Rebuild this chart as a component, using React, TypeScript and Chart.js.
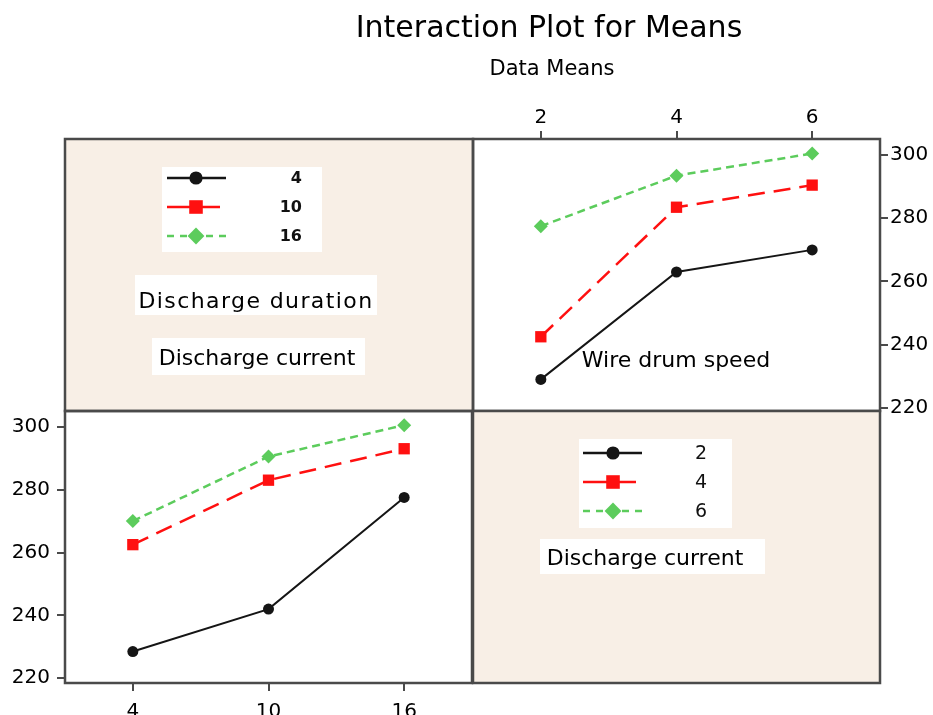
import { useEffect, useRef } from "react";
import { Chart, registerables } from "chart.js";

Chart.register(...registerables);

// ---------- data ----------
const TITLE = "Interaction Plot for Means";
const SUBTITLE = "Data Means";
const currentLevels = [2, 4, 6]; // Discharge current (x of top-right panel)
const durationLevels = [4, 10, 16]; // Discharge duration (x of bottom-left panel)
const yTicks = [220, 240, 260, 280, 300];

// top-right panel: series = discharge duration, x = discharge current
const durationLabels = ["4", "10", "16"];
const dur4Means = [229, 263, 270];
const dur10Means = [242.5, 283.5, 290.5];
const dur16Means = [277.5, 293.5, 300.5];

// bottom-left panel: series = discharge current, x = discharge duration
const currentLabels = ["2", "4", "6"];
const cur2Means = [228.5, 242, 277.5];
const cur4Means = [262.5, 283, 293];
const cur6Means = [270, 290.5, 300.5];

// ---------- styles ----------
const FONT = '"DejaVu Sans", Verdana, sans-serif';
const W = 933;
const H = 715;
const BEIGE = "#f8efe6";
const FRAME = "#4a4a4a";

type SeriesStyle = {
  color: string;
  pointStyle: "circle" | "rect" | "rectRot";
  radius: number;
  dash: number[];
  legendDash: number[];
  width: number;
};

const STYLES: SeriesStyle[] = [
  { color: "#151515", pointStyle: "circle", radius: 5.5, dash: [], legendDash: [], width: 2 },
  { color: "#ff1010", pointStyle: "rect", radius: 8, dash: [17, 9], legendDash: [], width: 2.5 },
  { color: "#5ccc5c", pointStyle: "rectRot", radius: 7, dash: [8, 5], legendDash: [7, 6], width: 2.5 },
];

function makeDatasets(xs: number[], series: number[][], labels: string[]) {
  return series.map((vals, i) => {
    const s = STYLES[i];
    return {
      label: labels[i],
      data: vals.map((v, j) => ({ x: xs[j], y: v })),
      borderColor: s.color,
      backgroundColor: s.color,
      borderWidth: s.width,
      borderDash: s.dash,
      pointStyle: s.pointStyle,
      pointRadius: s.radius,
      pointBorderWidth: 0,
      pointBackgroundColor: s.color,
      showLine: true,
      tension: 0,
      legendDash: s.legendDash,
    };
  });
}

function drawMarker(ctx: CanvasRenderingContext2D, ds: any, x: number, y: number, scale: number) {
  const r = ds.pointRadius * scale;
  ctx.save();
  ctx.setLineDash([]);
  ctx.fillStyle = ds.borderColor;
  ctx.beginPath();
  if (ds.pointStyle === "circle") ctx.arc(x, y, r, 0, Math.PI * 2);
  else if (ds.pointStyle === "rect") {
    const s = r * Math.SQRT1_2;
    ctx.rect(x - s, y - s, 2 * s, 2 * s);
  } else {
    ctx.moveTo(x, y - r);
    ctx.lineTo(x + r, y);
    ctx.lineTo(x, y + r);
    ctx.lineTo(x - r, y);
    ctx.closePath();
  }
  ctx.fill();
  ctx.restore();
}

type TextItem = {
  text: string;
  x: number;
  y: number;
  font: string;
  box?: number[];
  spacing?: string;
  align?: CanvasTextAlign;
};

const decorPlugin = {
  id: "decor",
  beforeDatasetsDraw(chart: any, _args: any, opts: any) {
    const ctx: CanvasRenderingContext2D = chart.ctx;
    const p = opts.panel;
    if (p) {
      ctx.save();
      ctx.fillStyle = BEIGE;
      ctx.fillRect(p[0], p[1], p[2] - p[0], p[3] - p[1]);
      ctx.restore();
    }
  },
  afterDraw(chart: any, _args: any, opts: any) {
    const ctx: CanvasRenderingContext2D = chart.ctx;
    const a = chart.chartArea;
    ctx.save();
    ctx.strokeStyle = FRAME;
    ctx.lineWidth = 2.5;
    ctx.setLineDash([]);
    ctx.strokeRect(a.left, a.top, a.right - a.left, a.bottom - a.top);
    const p = opts.panel;
    if (p) ctx.strokeRect(p[0], p[1], p[2] - p[0], p[3] - p[1]);

    // legend
    const lg = opts.legend;
    if (lg) {
      ctx.fillStyle = "#ffffff";
      ctx.fillRect(lg.box[0], lg.box[1], lg.box[2] - lg.box[0], lg.box[3] - lg.box[1]);
      chart.data.datasets.forEach((ds: any, i: number) => {
        const y = lg.rows[i];
        ctx.save();
        ctx.strokeStyle = ds.borderColor;
        ctx.lineWidth = 2.5;
        ctx.setLineDash(ds.legendDash || []);
        ctx.beginPath();
        ctx.moveTo(lg.x0, y);
        ctx.lineTo(lg.x1[i], y);
        ctx.stroke();
        ctx.restore();
        drawMarker(ctx, ds, lg.markerX, y, 1.2);
        ctx.fillStyle = "#111";
        ctx.font = lg.font;
        ctx.textAlign = lg.align;
        ctx.textBaseline = "middle";
        ctx.fillText(ds.label, lg.labelX, y + 1);
      });
    }

    (opts.texts || []).forEach((t: TextItem) => {
      if (t.box) {
        ctx.fillStyle = "#ffffff";
        ctx.fillRect(t.box[0], t.box[1], t.box[2] - t.box[0], t.box[3] - t.box[1]);
      }
      ctx.save();
      ctx.fillStyle = "#000";
      ctx.font = t.font;
      ctx.textAlign = t.align || "center";
      ctx.textBaseline = "alphabetic";
      (ctx as any).letterSpacing = t.spacing || "0px";
      ctx.fillText(t.text, t.x, t.y);
      ctx.restore();
    });
    ctx.restore();
  },
};

const TICK_FONT = { family: FONT, size: 20 };

function axis(extra: any) {
  return {
    type: "linear",
    grid: { drawOnChartArea: false, drawTicks: true, tickLength: 8, color: FRAME, lineWidth: 2 },
    border: { display: false },
    ...extra,
  };
}

export default function App() {
  const refA = useRef<HTMLCanvasElement>(null);
  const refB = useRef<HTMLCanvasElement>(null);

  useEffect(() => {
    const chartA = new Chart(refA.current as HTMLCanvasElement, {
      type: "scatter",
      data: { datasets: makeDatasets(currentLevels, [dur4Means, dur10Means, dur16Means], durationLabels) as any },
      options: {
        animation: false,
        responsive: false,
        devicePixelRatio: 1,
        layout: { padding: { left: 473, top: 90, right: 0, bottom: 304 } },
        scales: {
          x: axis({
            position: "top",
            min: 1,
            max: 7,
            afterBuildTicks: (s: any) => { s.ticks = currentLevels.map((v) => ({ value: v })); },
            afterFit: (s: any) => { s.height = 49; },
            ticks: { color: "#000", padding: 1, font: TICK_FONT, callback: (v: any) => String(v) },
          }),
          y: axis({
            position: "right",
            min: 219,
            max: 305.1,
            afterBuildTicks: (s: any) => { s.ticks = yTicks.map((v) => ({ value: v })); },
            afterFit: (s: any) => { s.width = 53; },
            ticks: { color: "#000", padding: 2, font: TICK_FONT, callback: (v: any) => String(v) },
          }),
        },
        plugins: {
          legend: { display: false },
          tooltip: { enabled: false },
          decor: {
            panel: [65, 139, 473, 411],
            legend: {
              box: [162, 167, 322, 252],
              rows: [178, 207, 236],
              x0: 167,
              x1: [226, 220, 226],
              markerX: 196,
              labelX: 302,
              align: "right",
              font: `bold 16px ${FONT}`,
            },
            texts: [
              { text: TITLE, x: 549, y: 37, font: `30px ${FONT}` },
              { text: SUBTITLE, x: 552, y: 75, font: `21px ${FONT}` },
              { text: "Discharge duration", x: 256, y: 308, font: `22px ${FONT}`, box: [135, 275, 377, 315], spacing: "1.4px" },
              { text: "Discharge current", x: 257, y: 365, font: `22px ${FONT}`, box: [152, 338, 365, 375] },
              { text: "Wire drum speed", x: 676, y: 367, font: `22px ${FONT}` },
            ],
          },
        } as any,
      },
      plugins: [decorPlugin as any],
    });

    const chartB = new Chart(refB.current as HTMLCanvasElement, {
      type: "scatter",
      data: { datasets: makeDatasets(durationLevels, [cur2Means, cur4Means, cur6Means], currentLabels) as any },
      options: {
        animation: false,
        responsive: false,
        devicePixelRatio: 1,
        layout: { padding: { left: 0, top: 411, right: 461, bottom: 0 } },
        scales: {
          x: axis({
            position: "bottom",
            min: 1,
            max: 19,
            afterBuildTicks: (s: any) => { s.ticks = durationLevels.map((v) => ({ value: v })); },
            afterFit: (s: any) => { s.height = 32; },
            ticks: { color: "#000", padding: 9, font: TICK_FONT, callback: (v: any) => String(v) },
          }),
          y: axis({
            position: "left",
            min: 218.5,
            max: 305,
            afterBuildTicks: (s: any) => { s.ticks = yTicks.map((v) => ({ value: v })); },
            afterFit: (s: any) => { s.width = 65; },
            ticks: { color: "#000", padding: 7, font: TICK_FONT, callback: (v: any) => String(v) },
          }),
        },
        plugins: {
          legend: { display: false },
          tooltip: { enabled: false },
          decor: {
            panel: [473, 411, 880, 683],
            legend: {
              box: [579, 439, 732, 528],
              rows: [453, 482, 511],
              x0: 583,
              x1: [642, 636, 642],
              markerX: 613,
              labelX: 701,
              align: "center",
              font: `19px ${FONT}`,
            },
            texts: [
              { text: "Discharge current", x: 645, y: 565, font: `22px ${FONT}`, box: [540, 539, 765, 574] },
            ],
          },
        } as any,
      },
      plugins: [decorPlugin as any],
    });

    return () => {
      chartA.destroy();
      chartB.destroy();
    };
  }, []);

  const canvasStyle: any = { position: "absolute", left: 0, top: 0, width: W, height: H };
  return (
    <div style={{ position: "absolute", left: 0, top: 0, width: W, height: H, background: "#fff", overflow: "hidden" }}>
      <canvas ref={refA} width={W} height={H} style={canvasStyle} />
      <canvas ref={refB} width={W} height={H} style={canvasStyle} />
    </div>
  );
}
